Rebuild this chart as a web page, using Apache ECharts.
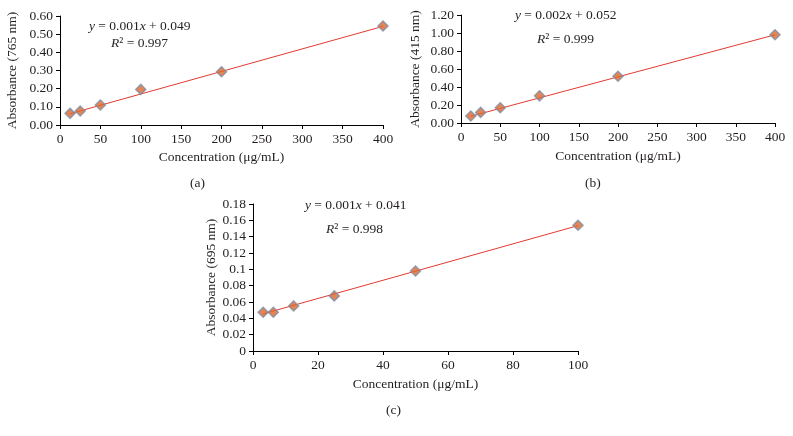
<!DOCTYPE html>
<html><head><meta charset="utf-8">
<script src="https://cdn.jsdelivr.net/npm/echarts@6/dist/echarts.min.js"></script>
<style>html,body{margin:0;padding:0;background:#fff}#c{width:793px;height:436px}</style>
</head><body><div id="c"></div>
<script>
// Panel (a)
const concA = [12.5, 25, 50, 100, 200, 400];
const absA = [0.064, 0.077, 0.11, 0.196, 0.293, 0.545];
const trendA = [[12.5, 0.062], [400, 0.543]];
// Panel (b)
const concB = [12.5, 25, 50, 100, 200, 400];
const absB = [0.078, 0.118, 0.170, 0.302, 0.520, 0.980];
const trendB = [[12.5, 0.075], [400, 0.980]];
// Panel (c)
const concC = [3.125, 6.25, 12.5, 25, 50, 100];
const absC = [0.0475, 0.0475, 0.0552, 0.0675, 0.098, 0.154];
const trendC = [[3.125, 0.0455], [100, 0.1535]];

const FONT = 'Liberation Serif';
const FS = 13.5;
const TC = '#231f20';
const pair = (xs, ys) => xs.map((x, i) => [x, ys[i]]);

const axisLine = {show: true, onZero: false, lineStyle: {color: '#000', width: 1}};
const axisTick = {show: true, length: 4, lineStyle: {color: '#000'}};
function xAx(idx, max, interval, gap) {
  return {type: 'value', gridIndex: idx, min: 0, max, interval,
    name: 'Concentration (\u03bcg/mL)', nameLocation: 'middle', nameGap: gap,
    nameTextStyle: {fontFamily: FONT, fontSize: FS, color: TC},
    axisLine, axisTick, splitLine: {show: false},
    axisLabel: {fontFamily: FONT, fontSize: FS, color: TC, margin: 7}};
}
function yAx(idx, max, interval, name, gap, fmt) {
  return {type: 'value', gridIndex: idx, min: 0, max, interval,
    name, nameLocation: 'middle', nameGap: gap,
    nameTextStyle: {fontFamily: FONT, fontSize: FS, color: TC},
    axisLine, axisTick, splitLine: {show: false},
    axisLabel: {fontFamily: FONT, fontSize: FS, color: TC, margin: 7, formatter: fmt}};
}
function scat(idx, data) {
  return {type: 'scatter', xAxisIndex: idx, yAxisIndex: idx, data, symbol: 'diamond', symbolSize: 10, z: 3,
    itemStyle: {color: '#df662a', borderColor: '#7e8ea5', borderWidth: 1.5}};
}
function trend(idx, data) {
  return {type: 'line', xAxisIndex: idx, yAxisIndex: idx, data, showSymbol: false, symbol: 'none', z: 2,
    lineStyle: {color: '#e23a30', width: 1}};
}
const rich = {i: {fontStyle: 'italic', fontFamily: FONT, fontSize: FS, color: TC},
  n: {fontFamily: FONT, fontSize: FS, color: TC}};
function txt(x, y, t) {
  return {type: 'text', left: x, top: y, style: {text: t, rich, font: FS + 'px ' + FONT, fill: TC}};
}
const chart = echarts.init(document.getElementById('c'), null, {renderer: 'canvas'});
chart.setOption({
  animation: false,
  grid: [
    {left: 60, top: 16, width: 323, height: 109},
    {left: 461, top: 15, width: 314, height: 108},
    {left: 253, top: 204, width: 325, height: 147}
  ],
  xAxis: [xAx(0, 400, 50, 25), xAx(1, 400, 50, 26), xAx(2, 100, 20, 26)],
  yAxis: [
    yAx(0, 0.6, 0.1, 'Absorbance (765 nm)', 41, v => v.toFixed(2)),
    yAx(1, 1.2, 0.2, 'Absorbance (415 nm)', 39, v => v.toFixed(2)),
    yAx(2, 0.18, 0.02, 'Absorbance (695 nm)', 35, v => String(+v.toFixed(2)))
  ],
  series: [trend(0, trendA), scat(0, pair(concA, absA)),
           trend(1, trendB), scat(1, pair(concB, absB)),
           trend(2, trendC), scat(2, pair(concC, absC))],
  graphic: [
    txt(89, 19, '{i|y}{n| = 0.001}{i|x}{n| + 0.049}'),
    txt(111, 36, '{i|R}{n|\u00b2 = 0.997}'),
    txt(515, 8, '{i|y}{n| = 0.002}{i|x}{n| + 0.052}'),
    txt(537, 32, '{i|R}{n|\u00b2 = 0.999}'),
    txt(305, 198, '{i|y}{n| = 0.001}{i|x}{n| + 0.041}'),
    txt(326, 222, '{i|R}{n|\u00b2 = 0.998}'),
    txt(190, 176, '{n|(a)}'),
    txt(585, 176, '{n|(b)}'),
    txt(386, 403, '{n|(c)}')
  ]
});
</script></body></html>
